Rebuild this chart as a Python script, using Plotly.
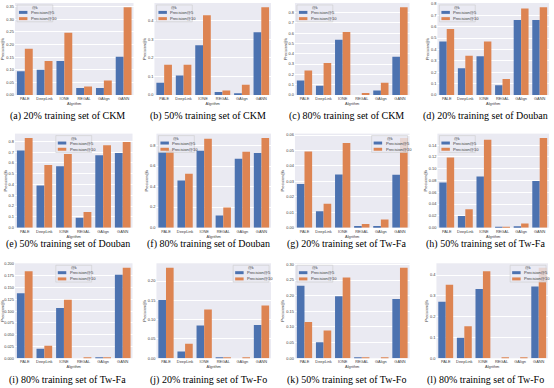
import plotly.graph_objects as go

# ---------------- data ----------------
algorithms = ["PALE", "DeepLink", "IONE", "REGAL", "GAlign", "GANN"]
series_names = ["Precision@5", "Precision@10"]

ckm20_p5 = [0.094, 0.100, 0.135, 0.028, 0.028, 0.152]
ckm20_p10 = [0.183, 0.135, 0.247, 0.034, 0.058, 0.347]
ckm50_p5 = [0.066, 0.105, 0.268, 0.016, 0.009, 0.339]
ckm50_p10 = [0.163, 0.163, 0.430, 0.025, 0.055, 0.473]
ckm80_p5 = [0.140, 0.090, 0.535, 0.0, 0.045, 0.370]
ckm80_p10 = [0.238, 0.310, 0.610, 0.020, 0.120, 0.850]
douban20_p5 = [0.470, 0.235, 0.340, 0.085, 0.660, 0.660]
douban20_p10 = [0.580, 0.345, 0.470, 0.140, 0.760, 0.770]
douban50_p5 = [0.714, 0.390, 0.570, 0.092, 0.670, 0.692]
douban50_p10 = [0.830, 0.580, 0.683, 0.145, 0.763, 0.794]
douban80_p5 = [0.740, 0.460, 0.750, 0.118, 0.672, 0.728]
douban80_p10 = [0.760, 0.525, 0.865, 0.197, 0.740, 0.872]
twfa20_p5 = [0.0282, 0.0107, 0.0345, 0.0010, 0.0010, 0.0343]
twfa20_p10 = [0.0493, 0.0155, 0.0548, 0.0024, 0.0052, 0.0580]
twfa50_p5 = [0.0765, 0.0197, 0.0870, 0.0010, 0.0023, 0.0790]
twfa50_p10 = [0.1190, 0.0313, 0.1490, 0.0015, 0.0070, 0.1520]
twfa80_p5 = [0.138, 0.020, 0.1067, 0.0, 0.001, 0.177]
twfa80_p10 = [0.1845, 0.0267, 0.124, 0.001, 0.001, 0.192]
twfo20_p5 = [0.151, 0.0177, 0.085, 0.002, 0.0, 0.086]
twfo20_p10 = [0.2345, 0.038, 0.1265, 0.003, 0.003, 0.137]
twfo50_p5 = [0.232, 0.051, 0.198, 0.001, 0.0, 0.189]
twfo50_p10 = [0.1156, 0.089, 0.258, 0.003, 0.001, 0.289]
twfo80_p5 = [0.2715, 0.099, 0.333, 0.0, 0.0, 0.345]
twfo80_p10 = [0.354, 0.154, 0.418, 0.003, 0.003, 0.435]

captions = [
    "(a) 20% training set of CKM", "(b) 50% training set of CKM",
    "(c) 80% training set of CKM", "(d) 20% training set of Douban",
    "(e) 50% training set of Douban", "(f) 80% training set of Douban",
    "(g) 20% training set of Tw-Fa", "(h) 50% training set of Tw-Fa",
    "(i) 80% training set of Tw-Fa", "(j) 20% training set of Tw-Fo",
    "(k) 50% training set of Tw-Fo", "(l) 80% training set of Tw-Fo",
]

panels_p5 = [ckm20_p5, ckm50_p5, ckm80_p5, douban20_p5, douban50_p5, douban80_p5,
             twfa20_p5, twfa50_p5, twfa80_p5, twfo20_p5, twfo50_p5, twfo80_p5]
panels_p10 = [ckm20_p10, ckm50_p10, ckm80_p10, douban20_p10, douban50_p10, douban80_p10,
              twfa20_p10, twfa50_p10, twfa80_p10, twfo20_p10, twfo50_p10, twfo80_p10]

# ---------------- styling / layout ----------------
W, H = 554, 388
colors = ["#4C72B0", "#DD8452"]
y_dticks = [0.05, 0.1, 0.1, 0.1, 0.1, 0.2, 0.01, 0.02, 0.025, 0.05, 0.05, 0.1]
y_formats = [".2f", ".1f", ".1f", ".1f", ".1f", ".1f", ".2f", ".2f", ".3f", ".2f", ".2f", ".1f"]
legend_locs = ["left", "left", "left", "left", "center", "left",
               "right", "left", "center", "right", "left", "right"]
# plot-area boxes in pixels: (left, right, top, bottom)
boxes = [
    (13, 132, 1, 94), (153, 270, 1, 94), (294, 409, 1, 94), (437, 549, 1, 94),
    (13, 131, 133, 228), (155, 270, 133, 228), (294, 409, 133, 228), (437, 549, 133, 228),
    (13, 131, 264, 360), (155, 270, 264, 360), (294, 409, 264, 360), (436, 548, 264, 360),
]
caption_x = [66, 207, 346, 485]
caption_y = [115, 245, 382]

tick_font = dict(family="Liberation Sans, Arial, sans-serif", size=3.9, color="#3a3a3a")

fig = go.Figure()
layout = dict(
    width=W, height=H, autosize=False,
    margin=dict(l=0, r=0, t=0, b=0, pad=0),
    paper_bgcolor="white", plot_bgcolor="#EAEAF2",
    barmode="group", bargap=0.2, bargroupgap=0.0,
    showlegend=False,
)
shapes = []
annotations = []


def px(x):
    return x / W


def py(y):
    return 1 - y / H


for i in range(12):
    n = i + 1
    xa = "x" if n == 1 else f"x{n}"
    ya = "y" if n == 1 else f"y{n}"
    for s, vals in enumerate([panels_p5[i], panels_p10[i]]):
        fig.add_trace(go.Bar(
            x=algorithms, y=vals, name=series_names[s],
            marker=dict(color=colors[s], line=dict(width=0)),
            xaxis=xa, yaxis=ya, offsetgroup=str(s),
        ))
    l, r, t, b = boxes[i]
    ymax = 1.05 * max(panels_p5[i] + panels_p10[i])
    layout["xaxis" if n == 1 else f"xaxis{n}"] = dict(
        domain=[px(l), px(r)], anchor=ya, type="category",
        range=[-0.5, 5.5], showgrid=False, zeroline=False, showline=False,
        ticks="", tickfont=tick_font,
        title=dict(text="Algrithm", font=tick_font, standoff=1),
    )
    layout["yaxis" if n == 1 else f"yaxis{n}"] = dict(
        domain=[py(b), py(t)], anchor=xa, range=[0, ymax],
        dtick=y_dticks[i], tick0=0, tickformat=y_formats[i],
        showgrid=True, gridcolor="white", gridwidth=0.7,
        zeroline=False, showline=False, ticks="", tickfont=tick_font,
        title=dict(text="Precision@k", font=tick_font, standoff=1),
    )

    # legend (drawn manually to match the tiny seaborn legend)
    lw, lh = 36, 17
    if legend_locs[i] == "left":
        lx0 = l + 2
    elif legend_locs[i] == "center":
        lx0 = (l + r) / 2 - lw / 2
    else:
        lx0 = r - 2 - lw
    ly0 = t + 2
    shapes.append(dict(type="rect", xref="paper", yref="paper",
                       x0=px(lx0), x1=px(lx0 + lw), y0=py(ly0 + lh), y1=py(ly0),
                       fillcolor="rgba(234,234,242,0.8)",
                       line=dict(color="#cccccc", width=0.6), layer="above"))
    annotations.append(dict(text="@k", xref="paper", yref="paper",
                            x=px(lx0 + lw / 2), y=py(ly0 + 3.2), showarrow=False,
                            xanchor="center", yanchor="middle",
                            font=dict(tick_font, size=3.8)))
    for s in range(2):
        cy = ly0 + 7.5 + s * 6.3
        shapes.append(dict(type="rect", xref="paper", yref="paper",
                           x0=px(lx0 + 2), x1=px(lx0 + 10.5),
                           y0=py(cy + 1.5), y1=py(cy - 1.5),
                           fillcolor=colors[s], line=dict(width=0), layer="above"))
        annotations.append(dict(text=series_names[s], xref="paper", yref="paper",
                                x=px(lx0 + 12), y=py(cy), showarrow=False,
                                xanchor="left", yanchor="middle",
                                font=dict(tick_font, size=4.1)))

    annotations.append(dict(text=captions[i], xref="paper", yref="paper",
                            x=px(caption_x[i % 4]), y=py(caption_y[i // 4]),
                            showarrow=False, xanchor="center", yanchor="middle",
                            font=dict(family="Liberation Serif, Times New Roman, serif",
                                      size=10, color="black")))

layout["shapes"] = shapes
layout["annotations"] = annotations
fig.update_layout(**layout)
fig.write_html(
    "out.html",
    config={"displayModeBar": False},
    post_script="document.body.style.margin='0';document.body.style.padding='0';"
                "document.body.style.overflow='hidden';",
)
